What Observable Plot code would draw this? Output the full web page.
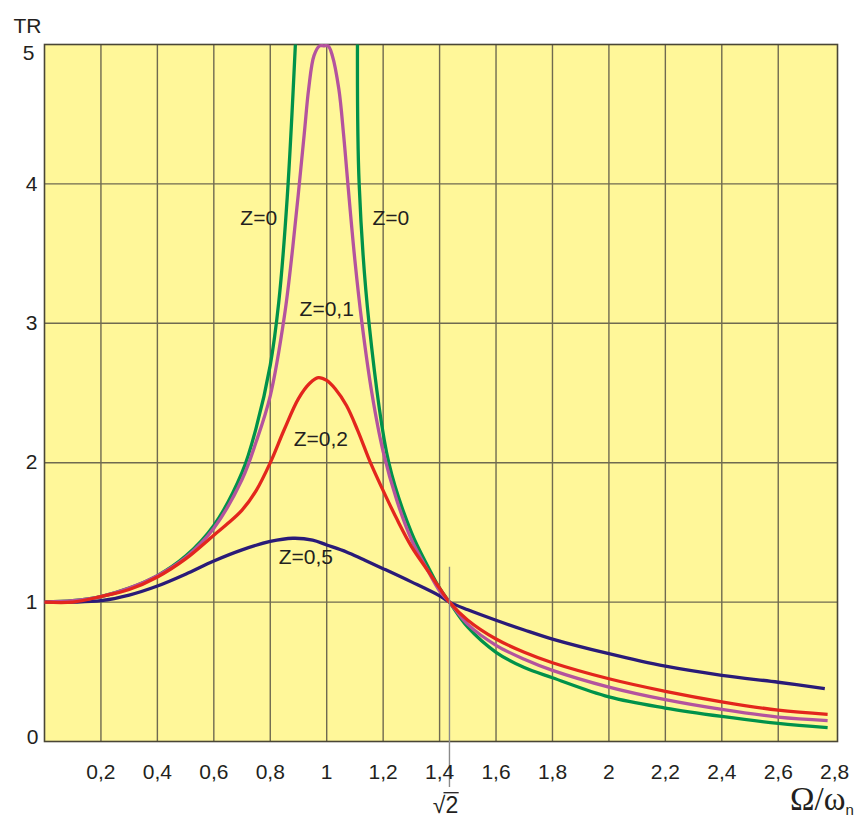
<!DOCTYPE html>
<html>
<head>
<meta charset="utf-8">
<script src="https://cdn.jsdelivr.net/npm/d3@7"></script>
<script src="https://cdn.jsdelivr.net/npm/@observablehq/plot@0.6"></script>
<style>
  html, body { margin: 0; padding: 0; background: #ffffff; }
</style>
</head>
<body>
<script>
// ---- data ----
// Z = 0 (undamped), left branch and right branch (off-scale between them)
const z0LeftR  = [0, 0.1, 0.2, 0.3, 0.4, 0.5, 0.6, 0.7, 0.75, 0.8, 0.83, 0.86, 0.889];
const z0LeftTR = [1.0, 1.01, 1.04, 1.10, 1.19, 1.33, 1.55, 1.93, 2.25, 2.7, 3.15, 3.9, 5.0];
const z0RightR  = [1.109, 1.115, 1.15, 1.22, 1.3, 1.36, 1.4, 1.435, 1.5, 1.6, 1.7, 1.8, 2.0, 2.2, 2.4, 2.6, 2.775];
const z0RightTR = [5.0, 4.0, 3.0, 2.0, 1.5, 1.25, 1.1, 1.0, 0.82, 0.64, 0.53, 0.457, 0.32, 0.24, 0.18, 0.13, 0.10];
// Z = 0,1
const z01R  = [0, 0.1, 0.2, 0.3, 0.4, 0.5, 0.6, 0.7, 0.75, 0.8, 0.85, 0.88, 0.92, 0.936, 0.955, 0.975, 0.99, 1.005, 1.02, 1.043, 1.06, 1.075, 1.1, 1.125, 1.16, 1.2, 1.25, 1.3, 1.36, 1.4, 1.435, 1.5, 1.6, 1.7, 1.8, 2.0, 2.2, 2.4, 2.6, 2.775];
const z01TR = [1.0, 1.01, 1.04, 1.10, 1.19, 1.32, 1.53, 1.88, 2.15, 2.48, 3.05, 3.55, 4.35, 4.68, 4.92, 4.99, 4.99, 4.99, 4.92, 4.68, 4.35, 4.0, 3.45, 3.0, 2.5, 2.08, 1.72, 1.45, 1.22, 1.08, 1.0, 0.84, 0.69, 0.59, 0.51, 0.39, 0.30, 0.23, 0.175, 0.15];
// Z = 0,2
const z02R  = [0, 0.1, 0.2, 0.3, 0.4, 0.5, 0.6, 0.65, 0.7, 0.75, 0.8, 0.85, 0.9, 0.94, 0.97, 1.0, 1.03, 1.07, 1.11, 1.155, 1.2, 1.25, 1.3, 1.36, 1.4, 1.435, 1.5, 1.6, 1.7, 1.8, 2.0, 2.2, 2.4, 2.6, 2.775];
const z02TR = [1.0, 1.0, 1.04, 1.09, 1.18, 1.31, 1.48, 1.565, 1.66, 1.8, 2.0, 2.24, 2.46, 2.57, 2.61, 2.59, 2.53, 2.41, 2.23, 2.0, 1.8, 1.59, 1.40, 1.22, 1.1, 1.0, 0.87, 0.735, 0.64, 0.565, 0.45, 0.36, 0.285, 0.225, 0.195];
// Z = 0,5
const z05R  = [0, 0.1, 0.2, 0.3, 0.4, 0.5, 0.6, 0.7, 0.8, 0.88, 0.95, 1.0, 1.07, 1.13, 1.2, 1.3, 1.4, 1.435, 1.5, 1.6, 1.7, 1.8, 2.0, 2.2, 2.4, 2.6, 2.765];
const z05TR = [1.0, 1.0, 1.01, 1.05, 1.115, 1.2, 1.295, 1.375, 1.435, 1.458, 1.445, 1.41, 1.36, 1.305, 1.24, 1.145, 1.045, 1.0, 0.945, 0.87, 0.8, 0.735, 0.63, 0.54, 0.475, 0.425, 0.38];

// curve labels
const labelText = ["Z=0", "Z=0", "Z=0,1", "Z=0,2", "Z=0,5"];
const labelR    = [0.759, 1.227, 1.0, 0.979, 0.926];
const labelTR   = [3.75, 3.75, 3.10, 2.17, 1.32];

// ticks
const xTicks = [0.2, 0.4, 0.6, 0.8, 1, 1.2, 1.4, 1.6, 1.8, 2, 2.2, 2.4, 2.6, 2.8];
const xGrid  = [0.2, 0.4, 0.6, 0.8, 1, 1.2, 1.4, 1.6, 1.8, 2, 2.2, 2.4, 2.6];
const yTicks = [0, 1, 2, 3, 4, 5];
const yGrid  = [1, 2, 3, 4];

// crossing point (√2) and its marker line top
const sqrt2R = [1.435];
const sqrt2TickTop = 1.25;

// ---- build ----
const zip = (xs, ys) => xs.map((x, i) => ({r: x, tr: ys[i]}));
const gridColor = "#6f6a50";
const frameColor = "#4a4636";
const textColor = "#231f20";
const fmt = d => Number.isInteger(d) ? String(d) : String(d).replace(".", ",");

const lineOpts = (stroke) => ({x: "r", y: "tr", stroke, strokeWidth: 3.3, curve: "catmull-rom", strokeLinejoin: "round", strokeLinecap: "butt"});

const chart = Plot.plot({
  width: 854,
  height: 817,
  marginTop: 44,
  marginBottom: 76,
  marginLeft: 44,
  marginRight: 17,
  x: {domain: [0, 2.81]},
  y: {domain: [0, 5]},
  style: {fontFamily: "'Liberation Sans', Arial, sans-serif", fontSize: "21px", color: textColor, background: "#ffffff"},
  marks: [
    Plot.frame({fill: "#fff799", stroke: "none"}),
    Plot.ruleX(xGrid, {stroke: gridColor, strokeWidth: 1.4}),
    Plot.ruleY(yGrid, {stroke: gridColor, strokeWidth: 1.4}),
    Plot.frame({stroke: frameColor, strokeWidth: 1.6}),
    Plot.line(zip(z05R, z05TR), lineOpts("#2a1b78")),
    Plot.line(zip(z0LeftR, z0LeftTR), {...lineOpts("#00924a"), clip: true}),
    Plot.line(zip(z0RightR, z0RightTR), {...lineOpts("#00924a"), clip: true}),
    Plot.line(zip(z01R, z01TR), lineOpts("#b4539e")),
    Plot.line(zip(z02R, z02TR), lineOpts("#e3261d")),
    Plot.ruleX(sqrt2R, {y1: sqrt2TickTop, y2: 0, insetBottom: -46, stroke: "#8a8a8a", strokeWidth: 1.4}),
    Plot.text(sqrt2R, {x: d => d, text: () => "√2", frameAnchor: "bottom", lineAnchor: "bottom", dy: 71, dx: -4, fontSize: 23, fill: textColor}),
    Plot.text(labelText.map((t, i) => ({t, r: labelR[i], tr: labelTR[i]})), {x: "r", y: "tr", text: "t", fontSize: 21, fill: textColor}),
    Plot.text(["TR"], {frameAnchor: "top-left", textAnchor: "start", dx: -31, dy: -26, fontSize: 21, fill: textColor}),
    Plot.text(["Ω/ω"], {frameAnchor: "bottom-right", textAnchor: "end", lineAnchor: "bottom", dx: 8, dy: 68, fontSize: 33, fontFamily: "'Liberation Serif', 'Times New Roman', serif", fill: textColor}),
    Plot.text(["n"], {frameAnchor: "bottom-right", textAnchor: "start", lineAnchor: "bottom", dx: 8, dy: 73, fontSize: 15, fill: textColor}),
    Plot.axisX(xTicks, {tickSize: 0, tickPadding: 23, tickFormat: fmt, label: null, fontSize: 21}),
    Plot.axisY([1, 2, 3, 4], {tickSize: 0, tickPadding: 7, tickFormat: fmt, label: null, fontSize: 21}),
    Plot.axisY([0], {tickSize: 0, tickPadding: 6, tickFormat: fmt, label: null, fontSize: 21, dy: -4}),
    Plot.axisY([5], {tickSize: 0, tickPadding: 10, tickFormat: fmt, label: null, fontSize: 21, dy: 9})
  ]
});
document.body.append(chart);

// overline over the "2" of √2
const sq = [...chart.querySelectorAll("text")].find(e => e.textContent === "√2");
if (sq) {
  try {
    const e0 = sq.getExtentOfChar(0), e1 = sq.getExtentOfChar(1);
    const ln = document.createElementNS("http://www.w3.org/2000/svg", "line");
    const yTop = e0.y + 1.2;
    ln.setAttribute("x1", e0.x + e0.width * 0.85);
    ln.setAttribute("x2", e1.x + e1.width + 0.5);
    ln.setAttribute("y1", yTop);
    ln.setAttribute("y2", yTop);
    ln.setAttribute("stroke", textColor);
    ln.setAttribute("stroke-width", 1.3);
    sq.parentNode.appendChild(ln);
    const tr = sq.getAttribute("transform");
    if (tr) ln.setAttribute("transform", tr);
  } catch (err) {}
}
</script>
</body>
</html>
